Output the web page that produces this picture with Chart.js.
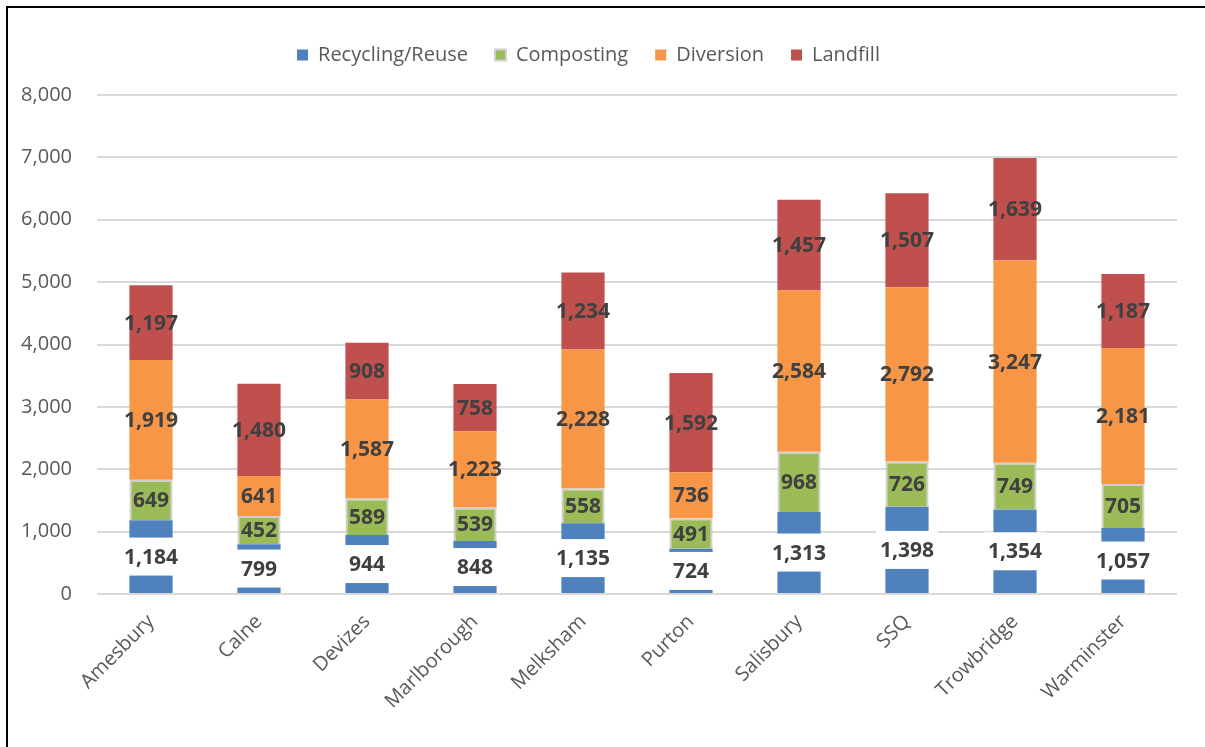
<!DOCTYPE html>
<html>
<head>
<meta charset="utf-8">
<script src="https://cdn.jsdelivr.net/npm/chart.js@4.4.1/dist/chart.umd.min.js"></script>
<style>
  html, body { margin: 0; padding: 0; background: #fff; }
  #wrap { width: 1205px; height: 747px; position: relative; }
</style>
</head>
<body>
<div id="wrap"><canvas id="wasteChart" width="1205" height="747"></canvas></div>
<script>
// tonnage by site
var sites = ["Amesbury", "Calne", "Devizes", "Marlborough", "Melksham", "Purton", "Salisbury", "SSQ", "Trowbridge", "Warminster"];
var recycling = [1184, 799, 944, 848, 1135, 724, 1313, 1398, 1354, 1057];
var composting = [649, 452, 589, 539, 558, 491, 968, 726, 749, 705];
var diversion = [1919, 641, 1587, 1223, 2228, 736, 2584, 2792, 3247, 2181];
var landfill = [1197, 1480, 908, 758, 1234, 1592, 1457, 1507, 1639, 1187];
var yTicks = [0, 1000, 2000, 3000, 4000, 5000, 6000, 7000, 8000];

var FONT = "'Open Sans', 'Liberation Sans', sans-serif";

// frame lines along top and left edge
var framePlugin = {
  id: 'frame',
  afterInit: function (chart) {
    // extra gap between legend and plot
    var fit = chart.legend.fit;
    chart.legend.fit = function () {
      fit.call(this);
      this.height += 20;
    };
  },
  beforeDraw: function (chart) {
    var c = chart.ctx;
    c.save();
    c.fillStyle = '#fff';
    c.fillRect(0, 0, chart.width, chart.height);
    c.strokeStyle = '#000';
    c.lineWidth = 2;
    c.beginPath();
    c.moveTo(7, chart.height);
    c.lineTo(7, 7);
    c.lineTo(chart.width, 7);
    c.stroke();
    c.restore();
  }
};

// value labels in the middle of every segment
var valueLabels = {
  id: 'valueLabels',
  afterDatasetsDraw: function (chart) {
    var c = chart.ctx;
    c.save();
    c.font = 'bold 21px ' + FONT;
    c.textAlign = 'center';
    c.textBaseline = 'middle';
    chart.data.datasets.forEach(function (ds, i) {
      var meta = chart.getDatasetMeta(i);
      meta.data.forEach(function (bar, j) {
        var v = ds.data[j];
        var txt = v.toLocaleString('en-US');
        var cy = (bar.y + bar.base) / 2;
        if (i === 0) {
          var w = Math.max(c.measureText(txt).width + 8, bar.width + 2);
          c.fillStyle = '#fff';
          c.fillRect(bar.x - w / 2, cy - 19, w, 38);
        }
        c.fillStyle = '#404040';
        c.fillText(txt, bar.x, cy + 1);
      });
    });
    c.restore();
  }
};

var ctx = document.getElementById('wasteChart').getContext('2d');
var chart = new Chart(ctx, {
  type: 'bar',
  data: {
    labels: sites,
    datasets: [
      { label: 'Recycling/Reuse', data: recycling, backgroundColor: '#4f81bd' },
      { label: 'Composting', data: composting, backgroundColor: '#9bbb59', borderColor: '#d0d0d0', borderWidth: 2 },
      { label: 'Diversion', data: diversion, backgroundColor: '#f79646' },
      { label: 'Landfill', data: landfill, backgroundColor: '#c0504d' }
    ]
  },
  options: {
    responsive: false,
    animation: false,
    datasets: { bar: { barPercentage: 0.4, categoryPercentage: 1.0 } },
    layout: { padding: { top: 18, right: 28, bottom: 0, left: 0 } },
    plugins: {
      legend: {
        position: 'top',
        labels: {
          boxWidth: 11,
          boxHeight: 11,
          padding: 27,
          color: '#595959',
          font: { family: FONT, size: 20 }
        }
      },
      tooltip: { enabled: false }
    },
    scales: {
      x: {
        stacked: true,
        grid: { display: false },
        border: { display: false },
        ticks: {
          color: '#595959',
          font: { family: FONT, size: 20 },
          minRotation: 45,
          maxRotation: 45,
          padding: 8
        },
        afterFit: function (scale) { scale.height = 153; }
      },
      y: {
        stacked: true,
        min: 0,
        max: 8000,
        grid: { color: '#d9d9d9', lineWidth: 2, drawTicks: false },
        border: { display: false },
        afterBuildTicks: function (scale) {
          scale.ticks = yTicks.map(function (v) { return { value: v }; });
        },
        ticks: {
          color: '#595959',
          font: { family: FONT, size: 20 },
          padding: 25,
          callback: function (v) { return v.toLocaleString('en-US'); }
        },
        afterFit: function (scale) { scale.width = 97; }
      }
    }
  },
  plugins: [framePlugin, valueLabels]
});
</script>
</body>
</html>
